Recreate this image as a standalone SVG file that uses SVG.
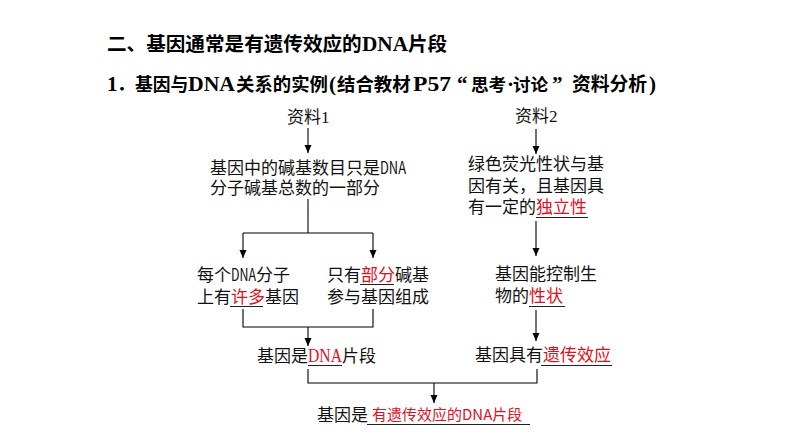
<svg xmlns="http://www.w3.org/2000/svg" width="794" height="447" viewBox="0 0 794 447">
<defs>
<marker id="ah" viewBox="0 0 8 10" refX="8" refY="5" markerWidth="8" markerHeight="10" markerUnits="userSpaceOnUse" orient="auto">
<path d="M0,1.5 L8,5 L0,8.5 Z" fill="#000"/>
</marker>
<style>
.h{font-family:"Liberation Serif","Noto Sans CJK SC",serif;font-weight:700;fill:#000}
.hc{font-family:"Noto Sans CJK SC",sans-serif;font-weight:700}
.t{font-family:"Noto Sans CJK SC",sans-serif;font-size:17px;fill:#111}
.r{fill:#e0101c}
.lat{font-family:"Liberation Serif",serif}
.ln{stroke:#000;stroke-width:1.1;fill:none}
.ul{stroke:#222;stroke-width:1;fill:none}
.ar{stroke:#000;stroke-width:1.1;fill:none;marker-end:url(#ah)}
</style>
</defs>
<rect width="794" height="447" fill="#fff"/>

<g id="header">
<text class="h" y="51"><tspan class="hc" x="107" font-size="19.6">二、基因通常是有遗传效应的</tspan><tspan x="362" font-size="21" textLength="46" lengthAdjust="spacingAndGlyphs">DNA</tspan><tspan class="hc" x="408" font-size="19.6">片段</tspan></text>
<text class="h" y="91" font-size="21"><tspan x="107">1</tspan><tspan class="hc" x="117" font-size="18">．</tspan><tspan class="hc" x="135" font-size="17.8">基因与</tspan><tspan x="188" textLength="47" lengthAdjust="spacingAndGlyphs">DNA</tspan><tspan class="hc" x="236" font-size="18.4">关系的实例</tspan><tspan x="329">(</tspan><tspan class="hc" x="337" font-size="18.4">结合教材</tspan><tspan x="413" textLength="38" lengthAdjust="spacingAndGlyphs">P57</tspan><tspan x="457">“</tspan><tspan class="hc" x="471" font-size="17.6">思考</tspan><tspan x="507">·</tspan><tspan class="hc" x="513" font-size="17.6">讨论</tspan><tspan x="552">”</tspan><tspan class="hc" x="572" font-size="18.8">资料分析</tspan><tspan x="649">)</tspan></text>
</g>

<g id="connectors">
<line class="ar" x1="308" y1="128" x2="308" y2="153"/>
<polyline class="ln" points="308,199 308,233"/>
<polyline class="ln" points="243,233 373,233"/>
<line class="ar" x1="243" y1="233" x2="243" y2="258"/>
<line class="ar" x1="373" y1="233" x2="373" y2="258"/>
<polyline class="ln" points="243,309 243,327 373,327 373,309"/>
<line class="ar" x1="308" y1="327" x2="308" y2="346"/>
<polyline class="ln" points="308,369 308,383 537,383 537,369"/>
<line class="ar" x1="434" y1="383" x2="434" y2="403"/>
<line class="ar" x1="536" y1="129" x2="536" y2="154"/>
<line class="ar" x1="536" y1="221" x2="536" y2="256"/>
<line class="ar" x1="536" y1="310" x2="536" y2="341"/>
</g>

<g id="src1">
<text class="t" x="287" y="123">资料<tspan class="lat">1</tspan></text>
</g>
<g id="fact1">
<text class="t"><tspan x="210" y="174">基因中的碱基数目只是</tspan><tspan x="380" y="174" textLength="26" lengthAdjust="spacingAndGlyphs">DNA</tspan><tspan x="210" y="194">分子碱基总数的一部分</tspan></text>
</g>
<g id="left1">
<text class="t"><tspan x="197" y="281">每个</tspan><tspan x="231" y="281" textLength="25" lengthAdjust="spacingAndGlyphs">DNA</tspan><tspan x="256" y="281">分子</tspan><tspan x="197" y="303">上有</tspan><tspan class="r">许多</tspan><tspan>基因</tspan></text>
<line class="ul" x1="230" y1="306.5" x2="263" y2="306.5"/>
</g>
<g id="left2">
<text class="t"><tspan x="327" y="281">只有</tspan><tspan class="r">部分</tspan><tspan>碱基</tspan><tspan x="327" y="303">参与基因组成</tspan></text>
<line class="ul" x1="360" y1="284.5" x2="394" y2="284.5"/>
</g>
<g id="concl1">
<text class="t" y="362"><tspan x="257">基因是</tspan><tspan class="r lat" x="308" font-size="18" textLength="34" lengthAdjust="spacingAndGlyphs">DNA</tspan><tspan x="342">片段</tspan></text>
<line class="ul" x1="308" y1="365.5" x2="342" y2="365.5"/>
</g>

<g id="src2">
<text class="t" x="515" y="122">资料<tspan class="lat">2</tspan></text>
</g>
<g id="fact2">
<text class="t"><tspan x="468" y="170">绿色荧光性状与基</tspan><tspan x="468" y="192">因有关，且基因具</tspan><tspan x="468" y="213">有一定的</tspan><tspan class="r">独立性</tspan></text>
<line class="ul" x1="536" y1="217.5" x2="588" y2="217.5"/>
</g>
<g id="right1">
<text class="t"><tspan x="495" y="280">基因能控制生</tspan><tspan x="495" y="302">物的</tspan><tspan class="r">性状</tspan></text>
<line class="ul" x1="529" y1="306.5" x2="565" y2="306.5"/>
</g>
<g id="right2">
<text class="t" x="475" y="361">基因具有<tspan class="r">遗传效应</tspan></text>
<line class="ul" x1="541" y1="365.5" x2="612" y2="365.5"/>
</g>

<g id="final">
<text class="t" y="421"><tspan x="317">基因是</tspan><tspan class="r" x="372" dy="-1" font-size="15">有遗传效应的DNA片段</tspan></text>
<line class="ul" x1="367" y1="424.5" x2="530" y2="424.5"/>
</g>
</svg>
